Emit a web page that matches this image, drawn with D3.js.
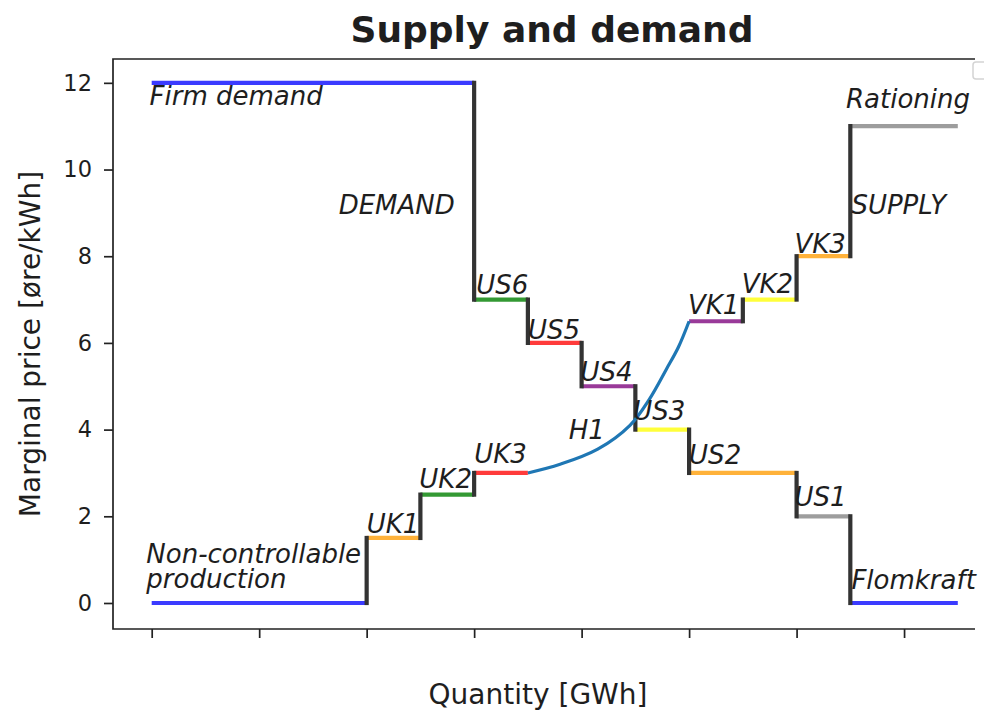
<!DOCTYPE html>
<html>
<head>
<meta charset="utf-8">
<script src="https://cdn.jsdelivr.net/npm/d3@7"></script>
<style>
  html, body { margin: 0; padding: 0; background: #fff; }
  svg { display: block; }
  text { font-family: "DejaVu Sans", sans-serif; fill: #1e1e1e; }
</style>
</head>
<body>
<svg id="chart" width="984" height="717"></svg>
<script>
// Supply blocks: [quantity from, quantity to, marginal price]
const supplyNames  = ["Non-controllable production", "UK1", "UK2", "UK3", "VK1", "VK2", "VK3", "Rationing"];
const supplyFrom   = [0, 2, 2.5, 3, 5, 5.5, 6, 6.5];
const supplyTo     = [2, 2.5, 3, 3.5, 5.5, 6, 6.5, 7.5];
const supplyPrice  = [0, 1.5, 2.5, 3, 6.5, 7, 8, 11];
const supplyColors = ["blue", "orange", "green", "red", "purple", "yellow", "orange", "grey"];

// Demand blocks
const demandNames  = ["Firm demand", "US6", "US5", "US4", "US3", "US2", "US1", "Flomkraft"];
const demandFrom   = [0, 3, 3.5, 4, 4.5, 5, 6, 6.5];
const demandTo     = [3, 3.5, 4, 4.5, 5, 6, 6.5, 7.5];
const demandPrice  = [12, 7, 6, 5, 4, 3, 2, 0];
const demandColors = ["blue", "green", "red", "purple", "yellow", "orange", "grey", "blue"];

// Hydro (H1) supply curve between UK3 and VK1
const hydroQty   = [3.5, 3.8, 4.15, 4.45, 4.63, 4.79, 4.9, 5.0];
const hydroPrice = [3.0, 3.2, 3.55, 4.1, 4.7, 5.4, 5.9, 6.5];

// Text annotations: label, quantity, price, anchor
const labelText   = ["Firm demand", "DEMAND", "US6", "US5", "US4", "US3", "US2", "US1", "Flomkraft",
                     "SUPPLY", "Rationing", "VK3", "VK2", "VK1", "H1", "UK3", "UK2", "UK1"];
const labelQty    = [-0.02, 2.82, 3.02, 3.5, 3.99, 4.48, 5.0, 5.98, 6.51,
                     6.51, 6.46, 5.98, 5.49, 4.99, 3.88, 3.0, 2.49, 2.0];
const labelPrice  = [11.48, 8.98, 7.12, 6.1, 5.12, 4.22, 3.2, 2.24, 0.33,
                     8.98, 11.42, 8.07, 7.15, 6.67, 3.78, 3.23, 2.65, 1.62];
const labelAnchor = ["start", "end", "start", "start", "start", "start", "start", "start", "start",
                     "start", "start", "start", "start", "start", "start", "start", "start", "start"];
const ncLines = ["Non-controllable", "production"];
const ncQty = -0.05, ncPrice = 0.93;

const yTicks = [0, 2, 4, 6, 8, 10, 12];
const xTicks = [0, 1, 2, 3, 4, 5, 6, 7];

const palette = {
  blue: "#3b3bff", orange: "#ffb23a", green: "#339933", red: "#ff3b3b",
  purple: "#993a99", yellow: "#ffff3a", grey: "#9d9d9d"
};

const svg = d3.select("#chart");
const plotLeft = 113, plotRight = 975, plotTop = 59, plotBottom = 629;

const x = d3.scaleLinear().domain([-0.36, 7.66]).range([plotLeft, plotRight]);
const y = d3.scaleLinear().domain([-0.6, 12.55]).range([plotBottom, plotTop]);

// Axes
const yAxis = d3.axisLeft(y).tickValues(yTicks).tickSize(9).tickPadding(12).tickFormat(d3.format("d"));
const xAxis = d3.axisBottom(x).tickValues(xTicks).tickSize(9).tickFormat("");

const gy = svg.append("g").attr("transform", `translate(${plotLeft},0)`).call(yAxis);
gy.select(".domain").remove();
gy.selectAll(".tick line").attr("stroke", "#222").attr("stroke-width", 1.7);
gy.selectAll(".tick text").style("font-size", "22.5px").attr("fill", "#222");

const gx = svg.append("g").attr("transform", `translate(0,${plotBottom})`).call(xAxis);
gx.select(".domain").remove();
gx.selectAll(".tick line").attr("stroke", "#222").attr("stroke-width", 1.7);

// Spines: left, bottom, top
svg.append("path")
  .attr("d", `M${plotRight},${plotTop}H${plotLeft}V${plotBottom}H${plotRight}`)
  .attr("fill", "none").attr("stroke", "#222").attr("stroke-width", 1.7);

// Empty legend frame at upper right
svg.append("rect")
  .attr("x", 973).attr("y", 62).attr("width", 40).attr("height", 17).attr("rx", 3)
  .attr("fill", "#fff").attr("stroke", "#d4d4d4").attr("stroke-width", 1.5);

function blocks(from, to, price, colors) {
  return from.map((f, i) => ({ x0: f, x1: to[i], p: price[i], c: colors[i] }));
}
const supply = blocks(supplyFrom, supplyTo, supplyPrice, supplyColors);
const demand = blocks(demandFrom, demandTo, demandPrice, demandColors);

// Horizontal price blocks
const plot = svg.append("g");
plot.selectAll("line.block")
  .data(supply.concat(demand))
  .join("line")
  .attr("class", "block")
  .attr("x1", d => x(d.x0)).attr("x2", d => x(d.x1))
  .attr("y1", d => y(d.p)).attr("y2", d => y(d.p))
  .attr("stroke", d => palette[d.c])
  .attr("stroke-width", 4.2)
  .attr("stroke-linecap", "butt");

// Vertical steps between adjacent blocks
function steps(arr) {
  const out = [];
  for (let i = 0; i < arr.length - 1; i++) {
    if (arr[i].x1 === arr[i + 1].x0) out.push({ q: arr[i].x1, p0: arr[i].p, p1: arr[i + 1].p });
  }
  return out;
}
plot.selectAll("line.step")
  .data(steps(supply).concat(steps(demand)))
  .join("line")
  .attr("class", "step")
  .attr("x1", d => x(d.q)).attr("x2", d => x(d.q))
  .attr("y1", d => y(d.p0)).attr("y2", d => y(d.p1))
  .attr("stroke", "#333")
  .attr("stroke-width", 4.2)
  .attr("stroke-linecap", "square");

// Hydro curve
const hydro = hydroQty.map((q, i) => [q, hydroPrice[i]]);
plot.append("path")
  .datum(hydro)
  .attr("d", d3.line().x(d => x(d[0])).y(d => y(d[1])).curve(d3.curveCatmullRom.alpha(0.5)))
  .attr("fill", "none")
  .attr("stroke", "#1f77b4")
  .attr("stroke-width", 3.2);

// Annotations
const ann = svg.append("g").style("font-style", "italic").style("font-size", "26px");
ann.selectAll("text.lab")
  .data(labelText.map((t, i) => ({ t, q: labelQty[i], p: labelPrice[i], a: labelAnchor[i] })))
  .join("text")
  .attr("class", "lab")
  .attr("x", d => x(d.q)).attr("y", d => y(d.p))
  .attr("text-anchor", d => d.a)
  .text(d => d.t);

// Two-line label for the non-controllable block
ann.selectAll("text.nc")
  .data(ncLines)
  .join("text")
  .attr("class", "nc")
  .attr("x", x(ncQty))
  .attr("y", (d, i) => y(ncPrice) + i * 25)
  .text(d => d);

// Title and axis labels
svg.append("text")
  .attr("x", 552).attr("y", 42).attr("text-anchor", "middle")
  .style("font-size", "36px").style("font-weight", "bold").attr("fill", "#000")
  .text("Supply and demand");

svg.append("text")
  .attr("x", 538).attr("y", 704).attr("text-anchor", "middle")
  .style("font-size", "28px").attr("fill", "#222")
  .text("Quantity [GWh]");

svg.append("text")
  .attr("transform", `translate(40,${(plotTop + plotBottom) / 2}) rotate(-90)`)
  .attr("text-anchor", "middle")
  .style("font-size", "28px").attr("fill", "#222")
  .text("Marginal price [øre/kWh]");
</script>
</body>
</html>
